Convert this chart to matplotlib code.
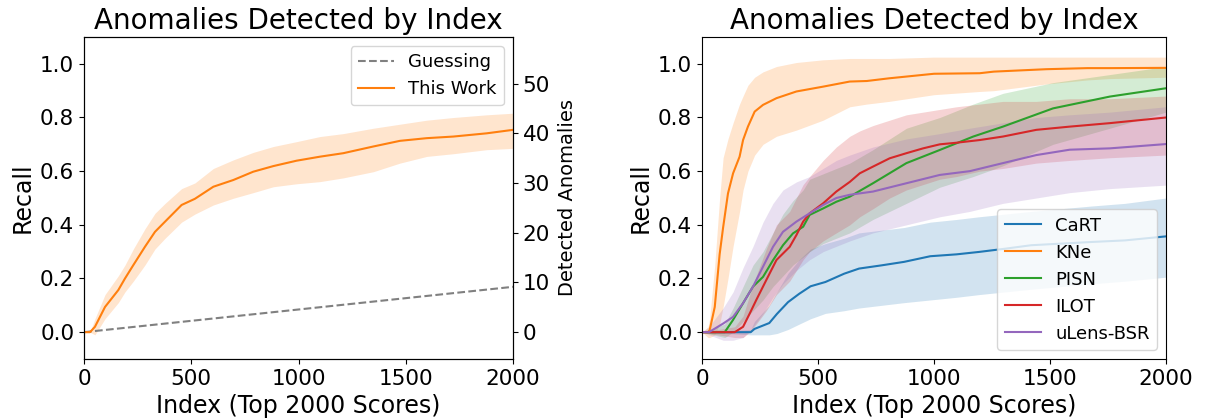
import numpy as np
import matplotlib
matplotlib.use("Agg")
import matplotlib.pyplot as plt
from matplotlib.ticker import MultipleLocator

# ---- left panel: this work vs guessing ----
n_anom = 54  # total anomalies (right axis scale)

guess_idx = [0, 2000]
guess_recall = [0, 0.169]

lw_idx = [0, 28, 51, 98, 160, 191, 230, 284, 331, 378, 455, 517, 603, 696, 789,
          883, 991, 1100, 1209, 1349, 1473, 1598, 1722, 1877, 2000]
lw_mean = [0, 0, 0.02, 0.094, 0.157, 0.2, 0.25, 0.318, 0.374, 0.412, 0.474, 0.497,
           0.542, 0.567, 0.598, 0.619, 0.639, 0.654, 0.667, 0.692, 0.713, 0.723,
           0.729, 0.741, 0.754]
lw_lo = [0, 0, -0.01, 0.05, 0.11, 0.15, 0.19, 0.25, 0.31, 0.35, 0.41, 0.44, 0.474,
         0.499, 0.52, 0.542, 0.553, 0.561, 0.575, 0.598, 0.63, 0.655, 0.665, 0.68, 0.685]
lw_hi = [0, 0, 0.05, 0.14, 0.21, 0.25, 0.31, 0.385, 0.443, 0.48, 0.535, 0.556, 0.61,
         0.642, 0.67, 0.692, 0.71, 0.729, 0.74, 0.76, 0.775, 0.79, 0.80, 0.81, 0.816]

# ---- right panel: per class ----
cart_idx = [0, 210, 226, 290, 323, 371, 419, 468, 532, 613, 677, 774, 871, 984, 1097,
            1194, 1306, 1419, 1548, 1677, 1823, 2000]
cart_mean = [0, 0, 0.012, 0.034, 0.068, 0.112, 0.143, 0.171, 0.187, 0.218, 0.237, 0.249,
             0.262, 0.283, 0.29, 0.299, 0.311, 0.324, 0.33, 0.336, 0.342, 0.357]
cart_lo = [0, -0.01, -0.01, -0.01, -0.005, 0.01, 0.03, 0.05, 0.07, 0.08, 0.09, 0.10,
           0.11, 0.12, 0.13, 0.14, 0.15, 0.16, 0.17, 0.18, 0.19, 0.205]
cart_hi = [0, 0.01, 0.04, 0.10, 0.15, 0.22, 0.27, 0.31, 0.33, 0.35, 0.37, 0.38, 0.39,
           0.41, 0.42, 0.43, 0.44, 0.45, 0.46, 0.47, 0.48, 0.50]

kne_idx = [0, 26, 33, 55, 76, 91, 112, 134, 162, 177, 198, 227, 263, 321, 407, 522, 637,
           710, 806, 1000, 1197, 1258, 1484, 1661, 1758, 2000]
kne_mean = [0, 0, 0.007, 0.094, 0.29, 0.39, 0.517, 0.592, 0.654, 0.716, 0.766, 0.822,
            0.847, 0.872, 0.897, 0.915, 0.934, 0.936, 0.946, 0.963, 0.965, 0.971, 0.98,
            0.984, 0.984, 0.985]
kne_lo = [0, -0.02, -0.02, -0.01, 0.03, 0.094, 0.2, 0.32, 0.45, 0.53, 0.6, 0.66, 0.7,
          0.73, 0.753, 0.79, 0.84, 0.85, 0.86, 0.885, 0.897, 0.90, 0.925, 0.94, 0.945, 0.95]
kne_hi = [0, 0.02, 0.05, 0.25, 0.5, 0.65, 0.72, 0.78, 0.85, 0.88, 0.92, 0.95, 0.97, 0.99,
          1.005, 1.015, 1.02, 1.02, 1.02, 1.025, 1.025, 1.025, 1.025, 1.025, 1.025, 1.025]

pisn_idx = [0, 98, 134, 177, 220, 263, 306, 349, 392, 436, 464, 522, 579, 637, 737, 881,
            1025, 1169, 1297, 1513, 1758, 2000]
pisn_mean = [0, 0, 0.046, 0.108, 0.17, 0.206, 0.268, 0.324, 0.368, 0.393, 0.437, 0.461,
             0.486, 0.505, 0.555, 0.63, 0.679, 0.729, 0.766, 0.834, 0.878, 0.909]
pisn_lo = [0, -0.02, 0.0, 0.04, 0.08, 0.12, 0.17, 0.21, 0.25, 0.28, 0.30, 0.33, 0.35,
           0.37, 0.42, 0.48, 0.54, 0.58, 0.62, 0.70, 0.76, 0.82]
pisn_hi = [0, 0.03, 0.09, 0.17, 0.25, 0.30, 0.37, 0.44, 0.49, 0.53, 0.57, 0.59, 0.61,
           0.63, 0.68, 0.76, 0.80, 0.85, 0.89, 0.93, 0.96, 0.99]

ilot_idx = [0, 141, 177, 206, 234, 277, 321, 378, 407, 436, 464, 522, 579, 637, 680, 737,
            809, 881, 953, 1025, 1097, 1197, 1297, 1441, 1585, 1758, 2000]
ilot_mean = [0, 0, 0.02, 0.07, 0.12, 0.194, 0.269, 0.318, 0.362, 0.412, 0.443, 0.48,
             0.524, 0.56, 0.592, 0.617, 0.648, 0.667, 0.685, 0.70, 0.706, 0.716, 0.729,
             0.754, 0.766, 0.779, 0.80]
ilot_lo = [0, -0.02, -0.02, 0.0, 0.03, 0.08, 0.14, 0.19, 0.23, 0.27, 0.30, 0.34, 0.37,
           0.40, 0.43, 0.46, 0.50, 0.53, 0.55, 0.57, 0.58, 0.60, 0.61, 0.63, 0.64, 0.65, 0.66]
ilot_hi = [0, 0.02, 0.06, 0.14, 0.21, 0.31, 0.40, 0.45, 0.50, 0.55, 0.58, 0.64, 0.69,
           0.73, 0.75, 0.77, 0.79, 0.81, 0.82, 0.83, 0.84, 0.85, 0.86, 0.86, 0.87, 0.87, 0.88]

ulens_idx = [0, 30, 91, 134, 177, 220, 263, 306, 349, 407, 464, 522, 579, 637, 737, 881,
             1025, 1154, 1297, 1441, 1585, 1758, 2000]
ulens_mean = [0, 0, 0.032, 0.057, 0.108, 0.17, 0.244, 0.318, 0.374, 0.412, 0.443, 0.474,
              0.5, 0.512, 0.524, 0.555, 0.586, 0.6, 0.63, 0.66, 0.68, 0.685, 0.701]
ulens_lo = [0, -0.01, -0.03, -0.03, -0.02, 0.02, 0.07, 0.13, 0.18, 0.23, 0.27, 0.30,
            0.32, 0.34, 0.37, 0.40, 0.43, 0.45, 0.48, 0.50, 0.52, 0.535, 0.548]
ulens_hi = [0, 0.02, 0.09, 0.15, 0.24, 0.32, 0.41, 0.48, 0.53, 0.56, 0.58, 0.61, 0.64,
            0.66, 0.69, 0.72, 0.74, 0.76, 0.78, 0.80, 0.81, 0.82, 0.84]

classes = ["CaRT", "KNe", "PISN", "ILOT", "uLens-BSR"]
class_data = [(cart_idx, cart_mean, cart_lo, cart_hi),
              (kne_idx, kne_mean, kne_lo, kne_hi),
              (pisn_idx, pisn_mean, pisn_lo, pisn_hi),
              (ilot_idx, ilot_mean, ilot_lo, ilot_hi),
              (ulens_idx, ulens_mean, ulens_lo, ulens_hi)]
colors = ["tab:blue", "tab:orange", "tab:green", "tab:red", "tab:purple"]

fig = plt.figure(figsize=(12.06, 4.2), dpi=100)
ax1 = fig.add_axes([84/1206, 61/420, 429/1206, 322/420])
ax3 = fig.add_axes([702/1206, 61/420, 464/1206, 322/420])

# left
ax1.plot(guess_idx, guess_recall, "--", color="gray", linewidth=1.5, label="Guessing")
ax1.plot(lw_idx, lw_mean, color="tab:orange", linewidth=1.5, label="This Work")
ax1.fill_between(lw_idx, lw_lo, lw_hi, color="tab:orange", alpha=0.2, linewidth=0)
ax1.set_xlim(0, 2000)
ax1.set_ylim(-0.1, 1.1)
ax1.yaxis.set_major_locator(MultipleLocator(0.2))
ax1.xaxis.set_major_locator(MultipleLocator(500))
ax1.tick_params(labelsize=15.5)
ax1.set_xlabel("Index (Top 2000 Scores)", fontsize=17)
ax1.set_ylabel("Recall", fontsize=17)
ax1.set_title("Anomalies Detected by Index", fontsize=20)
ax1.legend(loc="upper right", fontsize=13)

ax2 = ax1.twinx()
ax2.set_ylim(-0.1*n_anom, 1.1*n_anom)
ax2.yaxis.set_major_locator(MultipleLocator(10))
ax2.tick_params(labelsize=15.5)
ax2.set_ylabel("Detected Anomalies", fontsize=14, labelpad=6)

# right
for name, (ix, m, lo, hi), c in zip(classes, class_data, colors):
    ax3.plot(ix, m, color=c, linewidth=1.5, label=name)
    ax3.fill_between(ix, lo, hi, color=c, alpha=0.2, linewidth=0)
ax3.set_xlim(0, 2000)
ax3.set_ylim(-0.1, 1.1)
ax3.yaxis.set_major_locator(MultipleLocator(0.2))
ax3.xaxis.set_major_locator(MultipleLocator(500))
ax3.tick_params(labelsize=15.5)
ax3.set_xlabel("Index (Top 2000 Scores)", fontsize=17)
ax3.set_ylabel("Recall", fontsize=17)
ax3.set_title("Anomalies Detected by Index", fontsize=20)
ax3.legend(loc="lower right", fontsize=13)

plt.savefig("out.png", dpi=100)
